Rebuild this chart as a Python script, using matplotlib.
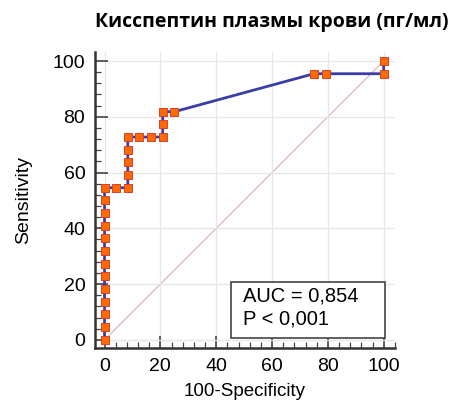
import matplotlib
matplotlib.use("Agg")
import matplotlib.pyplot as plt
from matplotlib.patches import Rectangle
from matplotlib.ticker import MultipleLocator

# === DATA (ROC curve points, %) ===
fpr = [0, 0, 0, 0, 0, 0, 0, 0, 0, 0, 0, 0, 0,
       4.17, 8.33, 8.33, 8.33, 8.33, 8.33,
       12.5, 16.67, 20.83, 20.83, 20.83, 25.0,
       75.0, 79.17, 100, 100]
tpr = [0, 4.55, 9.09, 13.64, 18.18, 22.73, 27.27, 31.82, 36.36, 40.91, 45.45, 50.0, 54.55,
       54.55, 54.55, 59.09, 63.64, 68.18, 72.73,
       72.73, 72.73, 72.73, 77.27, 81.82, 81.82,
       95.45, 95.45, 95.45, 100]
title = "Кисспептин плазмы крови (пг/мл)"
auc_lines = ["AUC = 0,854", "P < 0,001"]

plt.rcParams['font.family'] = ['Liberation Sans', 'DejaVu Sans']

fig = plt.figure(figsize=(4.57, 4.05), dpi=100)
ax = fig.add_axes([0.208, 0.141, 0.656, 0.731])

ax.plot([0, 100], [0, 100], color="#e0b8b8", lw=0.9, zorder=1)
ax.plot(fpr, tpr, color="#3c3ca8", lw=2, zorder=2)
ax.plot(fpr, tpr, ls="none", marker="s", ms=5.6, mfc="#ff6a00",
        mec="#d84030", mew=0.7, zorder=3)

ax.set_xlim(-3.4, 104)
ax.set_ylim(-2.9, 103.3)
ax.xaxis.set_major_locator(MultipleLocator(20))
ax.yaxis.set_major_locator(MultipleLocator(20))
ax.xaxis.set_minor_locator(MultipleLocator(4))
ax.yaxis.set_minor_locator(MultipleLocator(4))
ax.grid(True, which="major", color="#e6e6e6", lw=0.9, zorder=0)

for s in ["top", "right"]:
    ax.spines[s].set_visible(False)
for s in ["left", "bottom"]:
    ax.spines[s].set_color("#333333")
    ax.spines[s].set_linewidth(1.8)

ax.tick_params(which="major", direction="in", length=9, width=1.2, color="#444444",
               labelsize=14, pad=7)
ax.tick_params(which="minor", direction="in", length=4, width=0.9, color="#444444")

ax.set_xlabel("100-Specificity", fontsize=13.5, labelpad=6)
ax.set_ylabel("Sensitivity", fontsize=14, labelpad=15)

fig.text(0.595, 0.945, title, ha="center", va="center", fontsize=14,
         fontweight="bold", family=["Open Sans", "DejaVu Sans"])

# AUC box
ax.add_patch(Rectangle((45.2, 0.7), 55.2, 20.1, fc="white", ec="#444444",
                       lw=1.2, zorder=4))
ax.text(49.5, 15.6, auc_lines[0], fontsize=14.5, va="center", ha="left", zorder=5)
ax.text(49.5, 7.6, auc_lines[1], fontsize=14.5, va="center", ha="left", zorder=5)

fig.savefig("out.png", dpi=100)
